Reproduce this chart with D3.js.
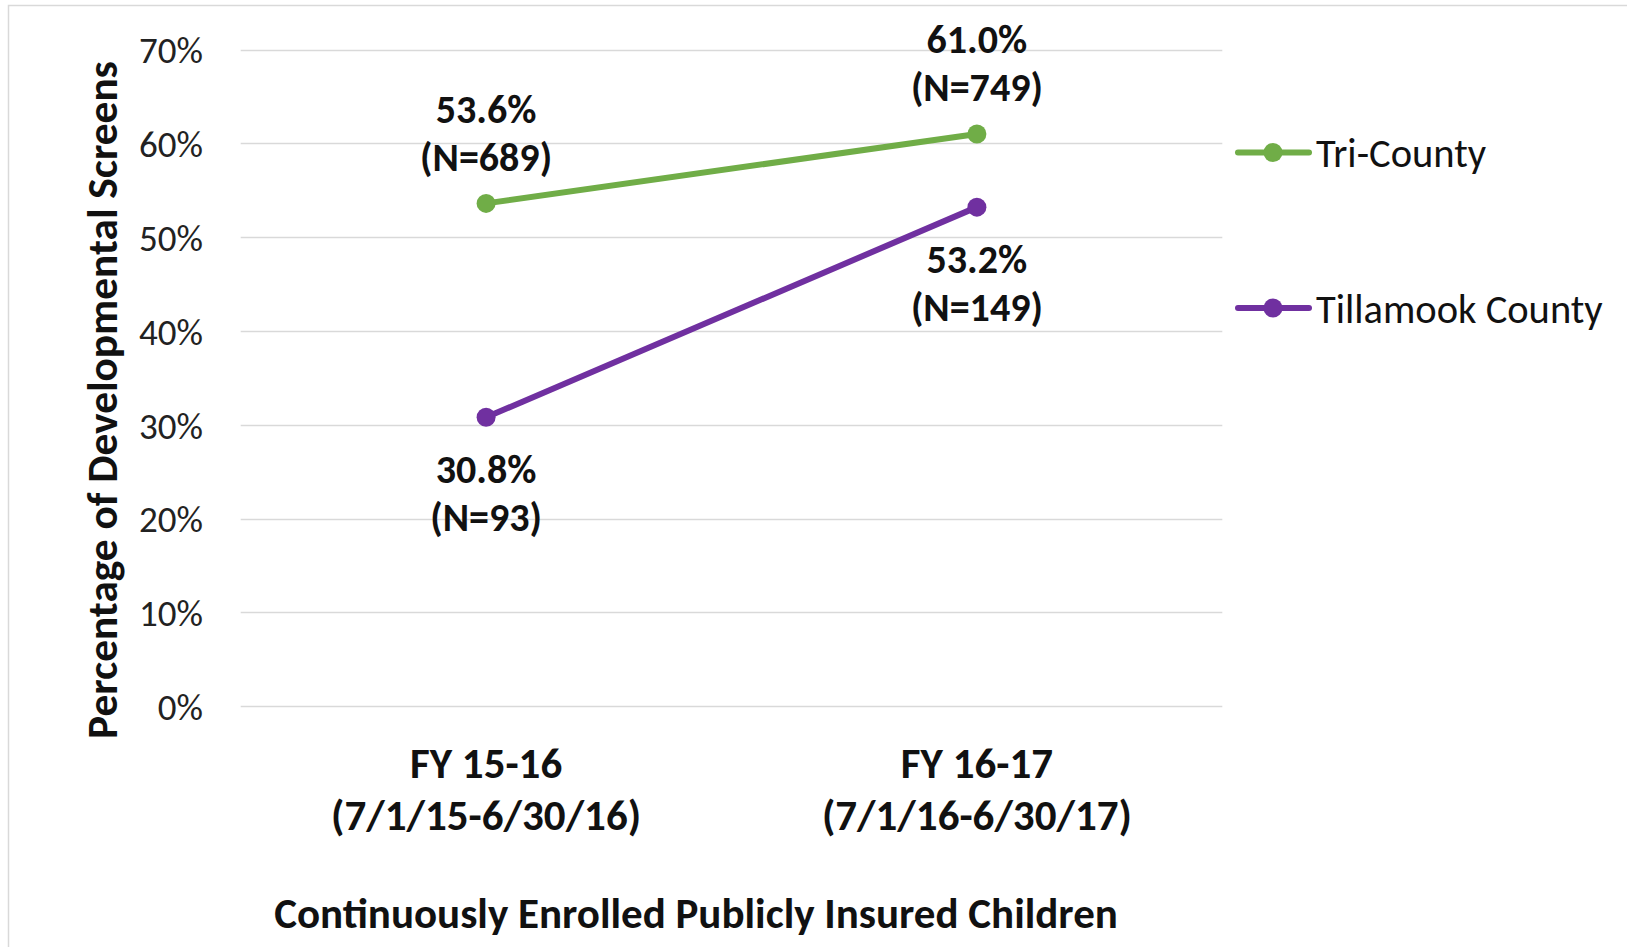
<!DOCTYPE html>
<html><head><meta charset="utf-8">
<script src="https://cdn.jsdelivr.net/npm/d3@7"></script>
<style>
html,body{margin:0;padding:0;background:#fff;}
svg{display:block;font-family:Carlito,Lato,sans-serif;}
</style></head>
<body><svg id="c" width="1627" height="947"></svg>
<script>
const categories = ["FY 15-16\n(7/1/15-6/30/16)", "FY 16-17\n(7/1/16-6/30/17)"];
const seriesNames = ["Tri-County", "Tillamook County"];
const triCounty = [53.6, 61.0];
const tillamook = [30.8, 53.2];
const triCountyN = [689, 749];
const tillamookN = [93, 149];
const yTicks = [0, 10, 20, 30, 40, 50, 60, 70];
const colors = ["#70AD47", "#7030A0"];

const svg = d3.select("#c");
svg.append("rect").attr("x", 8.5).attr("y", 5.5).attr("width", 1700).attr("height", 1000)
  .attr("fill", "none").attr("stroke", "#d9d9d9").attr("stroke-width", 1.5);

const pLeft = 240.7, pRight = 1222.3, pTop = 49.5, pBottom = 706.3;
const x = d3.scaleBand().domain(categories).range([pLeft, pRight]);
const y = d3.scaleLinear().domain([0, 70]).range([pBottom, pTop]);

// grid
svg.append("g").selectAll("line").data(yTicks).join("line")
  .attr("x1", pLeft).attr("x2", pRight)
  .attr("y1", d => Math.round(y(d)) + 0.5).attr("y2", d => Math.round(y(d)) + 0.5)
  .attr("stroke", "#d9d9d9").attr("stroke-width", 1.5);

// y axis labels
const yAxis = d3.axisLeft(y).tickValues(yTicks).tickFormat(d => d + "%").tickSize(0).tickPadding(0);
const ya = svg.append("g").attr("transform", "translate(203,0)").call(yAxis);
ya.select(".domain").remove();
ya.attr("font-family", null).attr("font-size", null);
ya.selectAll("text").attr("font-size", 37).attr("fill", "#222").attr("dy", "0.36em");

// x axis labels
const xAxis = d3.axisBottom(x).tickSize(0).tickFormat("");
const xa = svg.append("g").attr("transform", `translate(0,${pBottom})`).call(xAxis);
xa.select(".domain").remove();
xa.attr("font-family", null).attr("font-size", null);
xa.selectAll(".tick").each(function(d) {
  const t = d3.select(this).append("text").attr("text-anchor", "middle")
    .attr("font-size", 43).attr("font-weight", "bold").attr("fill", "#111");
  d.split("\n").forEach((s, i) => {
    t.append("tspan").attr("x", 0).attr("y", 56 + i * 52).attr("dy", "0.36em").text(s);
  });
});

// axis titles
svg.append("text").attr("transform", `translate(101,400) rotate(-90)`)
  .attr("text-anchor", "middle").attr("dy", "0.36em")
  .attr("font-size", 43.3).attr("font-weight", "bold").attr("fill", "#111")
  .text("Percentage of Developmental Screens");
svg.append("text").attr("x", 696).attr("y", 913).attr("dy", "0.36em")
  .attr("text-anchor", "middle").attr("font-size", 43).attr("font-weight", "bold").attr("fill", "#111")
  .text("Continuously Enrolled Publicly Insured Children");

const series = [
  {name: seriesNames[0], values: triCounty, ns: triCountyN, color: colors[0], above: true},
  {name: seriesNames[1], values: tillamook, ns: tillamookN, color: colors[1], above: false}
];
const cx = (i) => x(categories[i]) + x.bandwidth() / 2;
const line = d3.line().x((d, i) => cx(i)).y(d => y(d));

series.forEach(s => {
  svg.append("path").datum(s.values).attr("d", line)
    .attr("fill", "none").attr("stroke", s.color).attr("stroke-width", 6).attr("stroke-linecap", "round");
  svg.append("g").selectAll("circle").data(s.values).join("circle")
    .attr("cx", (d, i) => cx(i)).attr("cy", d => y(d)).attr("r", 9.5).attr("fill", s.color);
  s.values.forEach((v, i) => {
    const py = y(v);
    const l1 = s.above ? py - 95 : py + 51;
    const t = svg.append("text").attr("text-anchor", "middle").attr("font-size", 40)
      .attr("font-weight", "bold").attr("fill", "#111");
    t.append("tspan").attr("x", cx(i)).attr("y", l1).attr("dy", "0.36em").text(v.toFixed(1) + "%");
    t.append("tspan").attr("x", cx(i)).attr("y", l1 + 48).attr("dy", "0.36em").text("(N=" + s.ns[i] + ")");
  });
});

// legend
const legY = [152.5, 308];
series.forEach((s, i) => {
  const g = svg.append("g").attr("transform", `translate(0,${legY[i]})`);
  g.append("line").attr("x1", 1238).attr("x2", 1309).attr("stroke", s.color).attr("stroke-width", 6).attr("stroke-linecap", "round");
  g.append("circle").attr("cx", 1273).attr("r", 9.5).attr("fill", s.color);
  g.append("text").attr("x", 1316).attr("dy", "0.36em").attr("font-size", 40.5).attr("fill", "#111").text(s.name);
});
</script></body></html>
